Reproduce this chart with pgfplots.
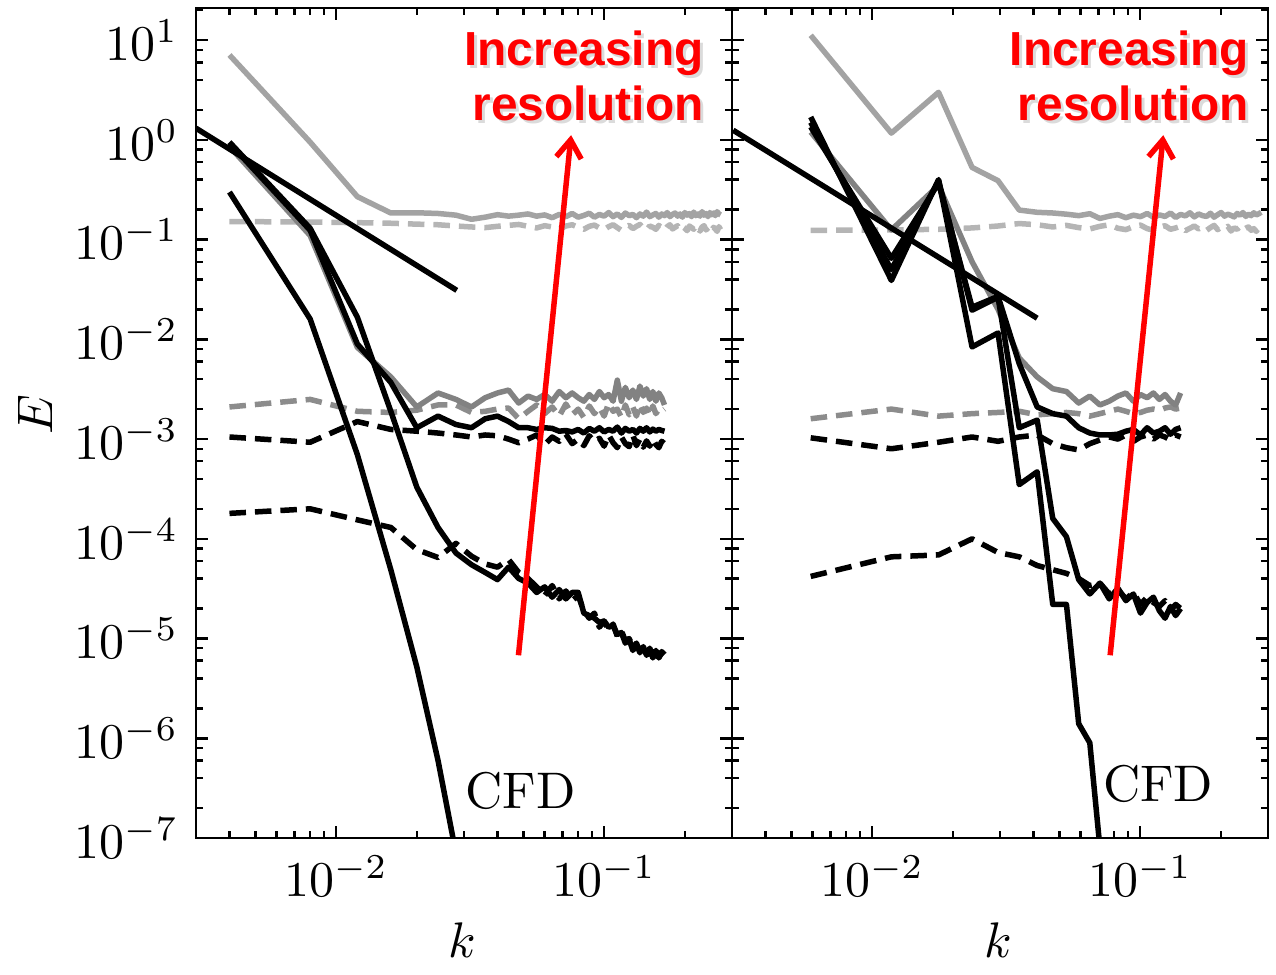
\documentclass[border=0pt]{standalone}
\usepackage{fontspec}
\usepackage{pgfplots}
\usepackage{pgfplotstable}
\usetikzlibrary{arrows.meta}
\pgfplotsset{compat=1.18}
\newfontfamily\redfont{Liberation Sans}
\definecolor{lgray}{HTML}{A3A3A3}
\definecolor{lgrayd}{HTML}{B5B5B5}
\definecolor{mgray}{HTML}{828282}
\definecolor{mgrayd}{HTML}{8C8C8C}
\definecolor{arrred}{HTML}{FF0000}

\newcommand{\lbl}{\fontsize{10.3}{12}\selectfont}
\newcommand{\rtx}{\redfont\bfseries\fontsize{9.56}{11}\selectfont}

\pgfplotsset{
  spec/.style={
    scale only axis,
    width=107.2pt, height=166pt,
    xmin=0.003, xmax=0.3, ymin=1e-7, ymax=21,
    xtick={0.01,0.1},
    ytick={1e-7,1e-6,1e-5,1e-4,1e-3,1e-2,1e-1,1,10},
    minor xtick={0.003,0.004,0.005,0.006,0.007,0.008,0.009,0.02,0.03,0.04,0.05,0.06,0.07,0.08,0.09,0.2,0.3},
    minor ytick={2e-7,4e-7,6e-7,8e-7,2e-6,4e-6,6e-6,8e-6,2e-5,4e-5,6e-5,8e-5,
      2e-4,4e-4,6e-4,8e-4,2e-3,4e-3,6e-3,8e-3,2e-2,4e-2,6e-2,8e-2,
      0.2,0.4,0.6,0.8,2,4,6,8,20},
    major tick length=2.4pt, minor tick length=1.4pt,
    tick style={black, line width=0.5pt},
    axis line style={line width=0.5pt},
    tick label style={font=\lbl},
    label style={font=\lbl},
    xlabel={$k$},
    xlabel style={at={(axis description cs:0.497,-0.123)}, anchor=center},
    every axis plot/.append style={line width=1.1pt, line join=round},
  },
  dsh/.style={dash pattern=on 3.3pt off 1.8pt},
}
\tikzset{
  txtshadow/.style={anchor=north east, align=right, inner sep=0pt, font=\rtx,
    text=black, opacity=0.14, xshift=0.6pt, yshift=-0.6pt},
  redtxt/.style={anchor=north east, align=right, inner sep=0pt, font=\rtx, text=arrred},
}

% left panel, k = 0.004 n
\pgfplotstableread{
k S0 D0
0.004 7.1 0.152
0.008 0.95 0.150
0.012 0.27 0.148
0.016 0.185 0.146
0.020 0.186 0.143
0.024 0.183 0.141
0.028 0.176 0.137
0.032 0.160 0.134
0.036 0.168 0.132
0.040 0.178 0.136
0.044 0.172 0.139
0.048 0.176 0.142
0.052 0.181 0.136
0.056 0.172 0.131
0.060 0.177 0.138
0.064 0.166 0.134
0.068 0.179 0.128
0.072 0.170 0.137
0.076 0.183 0.141
0.080 0.168 0.133
0.084 0.175 0.127
0.088 0.184 0.136
0.092 0.168 0.140
0.096 0.179 0.131
0.100 0.172 0.126
0.104 0.187 0.135
0.108 0.170 0.141
0.112 0.181 0.132
0.116 0.167 0.124
0.120 0.185 0.134
0.124 0.174 0.139
0.128 0.179 0.129
0.132 0.166 0.136
0.136 0.181 0.142
0.140 0.172 0.130
0.144 0.189 0.125
0.148 0.170 0.137
0.152 0.177 0.133
0.156 0.183 0.127
0.160 0.168 0.139
0.164 0.181 0.131
0.168 0.174 0.124
0.172 0.187 0.135
0.176 0.170 0.141
0.180 0.179 0.128
0.184 0.185 0.133
0.188 0.172 0.138
0.192 0.181 0.126
0.196 0.168 0.135
0.200 0.187 0.130
0.204 0.176 0.123
0.208 0.183 0.137
0.212 0.170 0.132
0.216 0.189 0.127
0.220 0.174 0.140
0.224 0.181 0.129
0.228 0.172 0.122
0.232 0.191 0.134
0.236 0.176 0.138
0.240 0.183 0.125
0.244 0.170 0.131
0.248 0.187 0.136
0.252 0.178 0.123
0.256 0.185 0.133
0.260 0.174 0.128
0.264 0.191 0.121
0.268 0.181 0.135
0.272 0.177 0.126
}\LA

\pgfplotstableread{
k S1 D1 S2 D2 S3 D3
0.004 0.86 2.1e-3 0.93 1.05e-3 0.95 1.8e-4
0.008 0.11 2.5e-3 0.124 9.3e-4 0.13 2.0e-4
0.012 0.0083 1.9e-3 0.009 1.5e-3 0.0167 1.55e-4
0.016 0.0042 1.85e-3 0.0037 1.25e-3 0.0019 1.3e-4
0.020 0.0021 1.95e-3 0.0013 1.2e-3 3.3e-4 7.8e-5
0.024 0.0029 2.2e-3 0.0017 1.15e-3 1.3e-4 6.5e-5
0.028 0.0025 2.2e-3 0.0014 1.1e-3 7.2e-5 9.0e-5
0.032 0.0021 1.85e-3 0.0013 1.05e-3 5.5e-5 6.7e-5
0.036 0.0026 1.9e-3 0.0016 1.1e-3 4.6e-5 5.6e-5
0.040 0.0029 2.0e-3 0.0017 1.08e-3 3.9e-5 5.2e-5
0.044 0.0031 2.05e-3 0.0015 1.0e-3 5.2e-5 6.2e-5
0.048 0.0023 1.6e-3 0.0013 9.2e-4 4.0e-5 4.6e-5
0.052 0.0027 1.9e-3 0.0013 1.0e-3 3.6e-5 4.0e-5
0.056 0.0025 2.2e-3 0.00125 1.1e-3 2.9e-5 3.3e-5
0.060 0.0028 1.8e-3 0.0013 8.8e-4 3.3e-5 2.7e-5
0.064 0.0024 2.1e-3 0.00128 1.05e-3 2.6e-5 3.4e-5
0.068 0.0030 1.7e-3 0.0012 9.5e-4 3.1e-5 2.5e-5
0.072 0.0026 2.25e-3 0.00122 1.12e-3 2.5e-5 3.0e-5
0.076 0.0029 1.75e-3 0.00118 9.0e-4 2.9e-5 2.4e-5
0.080 0.0026 2.0e-3 0.00125 1.0e-3 2.9e-5 2.7e-5
0.084 0.0024 1.65e-3 0.00115 8.6e-4 1.8e-5 1.9e-5
0.088 0.0028 2.15e-3 0.00128 1.08e-3 1.7e-5 1.6e-5
0.092 0.0025 1.8e-3 0.0012 9.4e-4 1.6e-5 1.8e-5
0.096 0.0030 2.1e-3 0.0013 1.02e-3 1.45e-5 1.3e-5
0.100 0.0026 1.7e-3 0.00118 8.5e-4 1.5e-5 1.5e-5
0.104 0.0028 2.3e-3 0.00125 1.1e-3 1.3e-5 1.2e-5
0.108 0.0024 1.9e-3 0.0012 9.2e-4 1.35e-5 1.4e-5
0.112 0.0039 2.0e-3 0.00132 8.2e-4 1.1e-5 1.05e-5
0.116 0.0024 1.65e-3 0.00115 1.05e-3 1.15e-5 1.2e-5
0.120 0.0033 2.2e-3 0.00128 9.0e-4 9.0e-6 9.5e-6
0.124 0.0026 1.75e-3 0.0012 8.4e-4 9.8e-6 1.0e-5
0.128 0.0031 2.1e-3 0.00125 1.1e-3 7.6e-6 8.2e-6
0.132 0.0025 1.7e-3 0.00115 8.6e-4 8.8e-6 9.0e-6
0.136 0.0034 2.25e-3 0.00128 1.0e-3 7.4e-6 7.2e-6
0.140 0.0027 1.85e-3 0.0012 8.3e-4 8.3e-6 8.6e-6
0.144 0.0032 2.05e-3 0.0013 9.6e-4 6.8e-6 7.0e-6
0.148 0.0025 1.7e-3 0.00118 8.5e-4 7.7e-6 8.0e-6
0.152 0.0030 2.15e-3 0.00126 1.0e-3 6.4e-6 6.6e-6
0.156 0.0024 1.8e-3 0.0012 8.8e-4 7.3e-6 7.6e-6
0.160 0.0029 2.0e-3 0.00125 8.2e-4 6.6e-6 6.4e-6
0.164 0.0026 1.9e-3 0.00122 9.5e-4 7.4e-6 7.2e-6
0.168 0.0022 2.0e-3 0.0012 9.0e-4 6.9e-6 6.8e-6
}\LB

% right panel, k = 0.0059 n
\pgfplotstableread{
k S0 D0
0.0059 11.2 0.124
0.0118 1.17 0.125
0.0177 3.0 0.127
0.0236 0.53 0.131
0.0295 0.39 0.137
0.0354 0.198 0.145
0.0413 0.188 0.141
0.0472 0.185 0.134
0.0531 0.180 0.139
0.0590 0.174 0.132
0.0649 0.182 0.128
0.0708 0.163 0.136
0.0767 0.172 0.141
0.0826 0.178 0.130
0.0885 0.166 0.126
0.0944 0.176 0.135
0.1003 0.170 0.140
0.1062 0.183 0.129
0.1121 0.168 0.124
0.1180 0.177 0.133
0.1239 0.171 0.138
0.1298 0.185 0.127
0.1357 0.167 0.131
0.1416 0.179 0.136
0.1475 0.173 0.123
0.1534 0.186 0.130
0.1593 0.169 0.137
0.1652 0.181 0.128
0.1711 0.174 0.134
0.1770 0.171 0.124
0.1829 0.184 0.132
0.1888 0.168 0.139
0.1947 0.178 0.126
0.2006 0.187 0.133
0.2065 0.172 0.129
0.2124 0.180 0.136
0.2183 0.175 0.122
0.2242 0.169 0.131
0.2301 0.183 0.127
0.2360 0.176 0.135
0.2419 0.187 0.125
0.2478 0.171 0.130
0.2537 0.180 0.134
0.2596 0.174 0.124
0.2655 0.186 0.129
0.2714 0.177 0.121
0.2773 0.182 0.133
0.2832 0.188 0.138
}\RA

\pgfplotstableread{
k S1 D1 S2 D2 S3 D3
0.0059 1.2 1.6e-3 1.35 1.03e-3 1.5 4.2e-5
0.0118 0.125 2.0e-3 0.065 8.0e-4 0.05 6.6e-5
0.0177 0.35 1.7e-3 0.37 9.3e-4 0.39 6.9e-5
0.0236 0.06 1.8e-3 0.021 1.05e-3 0.0196 1.0e-4
0.0295 0.02 1.85e-3 0.027 9.5e-4 0.0265 7.3e-5
0.0354 0.0065 1.9e-3 0.0057 1.05e-3 0.0013 6.6e-5
0.0413 0.0042 1.75e-3 0.0021 1.1e-3 0.00155 5.4e-5
0.0472 0.0032 1.8e-3 0.0018 9.0e-4 1.6e-4 4.9e-5
0.0531 0.0030 1.85e-3 0.0017 8.2e-4 1.05e-4 4.5e-5
0.0590 0.0023 1.8e-3 0.0013 7.8e-4 3.9e-5 4.0e-5
0.0649 0.0027 1.7e-3 0.00115 9.0e-4 2.8e-5 3.4e-5
0.0708 0.0022 1.8e-3 0.0011 9.8e-4 3.6e-5 3.6e-5
0.0767 0.0024 1.9e-3 0.0011 1.05e-3 2.5e-5 2.8e-5
0.0826 0.0027 2.0e-3 0.00112 1.0e-3 3.2e-5 3.1e-5
0.0885 0.0029 1.9e-3 0.0012 1.1e-3 2.4e-5 2.5e-5
0.0944 0.0024 1.8e-3 0.00125 9.5e-4 2.8e-5 2.9e-5
0.1003 0.0028 1.85e-3 0.0011 1.05e-3 1.8e-5 2.2e-5
0.1062 0.0026 1.95e-3 0.0013 1.1e-3 2.3e-5 2.6e-5
0.1121 0.0029 2.0e-3 0.00115 1.0e-3 2.6e-5 2.3e-5
0.1180 0.0025 1.95e-3 0.0012 1.1e-3 1.9e-5 2.1e-5
0.1239 0.0028 2.05e-3 0.0013 1.05e-3 1.6e-5 2.4e-5
0.1298 0.0024 2.1e-3 0.00112 9.8e-4 2.1e-5 1.9e-5
0.1357 0.0022 2.0e-3 0.00125 1.1e-3 1.7e-5 2.2e-5
0.1416 0.0029 2.05e-3 0.0013 1.05e-3 2.0e-5 2.0e-5
}\RB

\begin{document}
\begin{tikzpicture}
\begin{loglogaxis}[spec, name=left, at={(0,0)}, anchor=south west,
  ylabel={$E$},
  ylabel style={at={(axis description cs:-0.300,0.51)}, anchor=center}]
\addplot[lgrayd, dsh] table[x=k, y=D0] {\LA};
\addplot[lgray] table[x=k, y=S0] {\LA};
\addplot[mgrayd, dsh] table[x=k, y=D1] {\LB};
\addplot[mgray] table[x=k, y=S1] {\LB};
\addplot[black, dsh] table[x=k, y=D2] {\LB};
\addplot[black] table[x=k, y=S2] {\LB};
\addplot[black, dsh] table[x=k, y=D3] {\LB};
\addplot[black] table[x=k, y=S3] {\LB};
% CFD
\addplot[black] coordinates {(0.004,0.30) (0.008,0.016) (0.012,7e-4) (0.016,4.9e-5) (0.020,5.2e-6) (0.024,6e-7) (0.028,7e-8)};
% -5/3 slope
\addplot[black] coordinates {(0.003,1.31) (0.0282,0.031)};
\node[font=\lbl] at (axis cs:0.0488,3.0e-7) {CFD};
\draw[arrred, line width=1.1pt, -{Straight Barb[length=3.6pt,width=5pt]}]
  (axis cs:0.0479,6.8e-6) -- (axis cs:0.0753,1.116);
\node[txtshadow] at (axis cs:0.237,12.6) {Increasing\\resolution};
\node[redtxt] at (axis cs:0.237,12.6) {Increasing\\resolution};
\end{loglogaxis}

\begin{loglogaxis}[spec, name=right, at={(107.2pt,0)}, anchor=south west,
  yticklabels={}]
\addplot[lgrayd, dsh] table[x=k, y=D0] {\RA};
\addplot[lgray] table[x=k, y=S0] {\RA};
\addplot[mgrayd, dsh] table[x=k, y=D1] {\RB};
\addplot[mgray] table[x=k, y=S1] {\RB};
\addplot[black, dsh] table[x=k, y=D2] {\RB};
\addplot[black] table[x=k, y=S2] {\RB};
\addplot[black, dsh] table[x=k, y=D3] {\RB};
\addplot[black] table[x=k, y=S3] {\RB};
% CFD
\addplot[black] coordinates {(0.0059,1.7) (0.0118,0.039) (0.0177,0.40) (0.0236,0.0084) (0.0295,0.0116) (0.0354,3.5e-4) (0.0413,4.7e-4) (0.0472,2.2e-5) (0.0531,2.2e-5) (0.0590,1.4e-6) (0.0649,9e-7) (0.0708,8e-8)};
% -5/3 slope
\addplot[black] coordinates {(0.00303,1.25) (0.0413,0.0163)};
\node[font=\lbl] at (axis cs:0.1167,3.5e-7) {CFD};
\draw[arrred, line width=1.1pt, -{Straight Barb[length=3.6pt,width=5pt]}]
  (axis cs:0.0773,6.8e-6) -- (axis cs:0.122,1.116);
\node[txtshadow] at (axis cs:0.257,12.6) {Increasing\\resolution};
\node[redtxt] at (axis cs:0.257,12.6) {Increasing\\resolution};
\end{loglogaxis}
\path (-39.2pt,-24.2pt) rectangle (216pt,167.6pt);
\end{tikzpicture}
\end{document}
